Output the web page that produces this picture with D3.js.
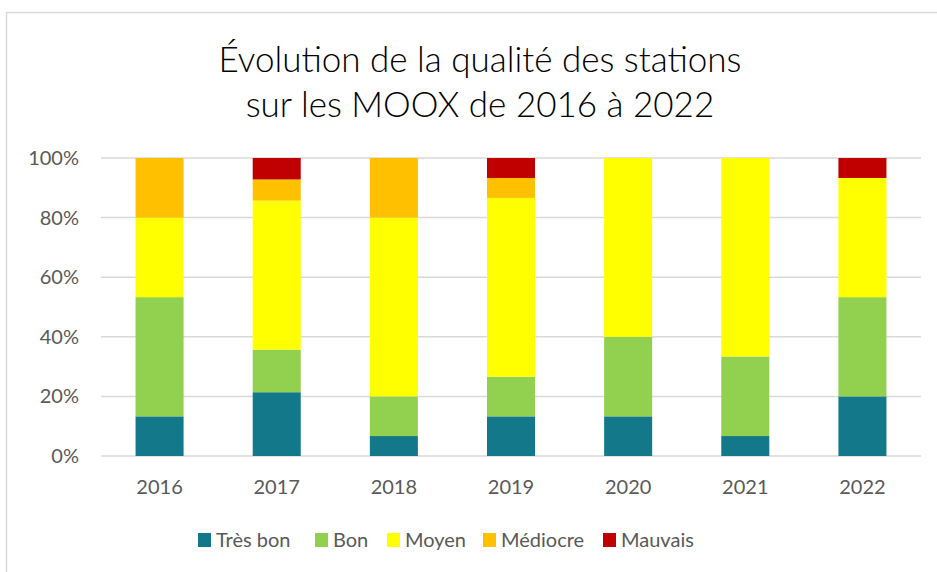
<!DOCTYPE html>
<html><head><meta charset="utf-8">
<script src="https://cdn.jsdelivr.net/npm/d3@7"></script>
<style>body{margin:0;background:#fff}svg{display:block;font-family:Lato,"Open Sans",sans-serif}</style>
</head><body><svg id="c" width="937" height="572"></svg>
<script>
const years = ["2016","2017","2018","2019","2020","2021","2022"];
const seriesNames = ["Très bon","Bon","Moyen","Médiocre","Mauvais"];
const tresBon  = [13.3, 21.4, 6.7, 13.3, 13.3, 6.7, 20.0];
const bon      = [40.0, 14.3, 13.3, 13.3, 26.7, 26.7, 33.3];
const moyen    = [26.7, 50.0, 60.0, 60.0, 60.0, 66.6, 40.0];
const mediocre = [20.0, 7.1, 20.0, 6.7, 0, 0, 0];
const mauvais  = [0, 7.2, 0, 6.7, 0, 0, 6.7];
const colors = ["#13788A","#92D050","#FFFF00","#FFC000","#C00000"];
const yTicks = [0,20,40,60,80,100];

const svg = d3.select("#c");
svg.append("rect").attr("x",6.5).attr("y",12.5).attr("width",940).attr("height",570)
  .attr("fill","none").attr("stroke","#d9d9d9").attr("stroke-width",1.5);

const title = svg.append("text").attr("text-anchor","middle").attr("fill","#000")
  .style("font-size","35px").style("font-weight","300");
title.append("tspan").attr("x",480).attr("y",72).text("Évolution de la qualité des stations");
title.append("tspan").attr("x",480).attr("y",117).text("sur les MOOX de 2016 à 2022");

const x = d3.scaleBand().domain(years).range([101,921]).paddingInner(0.59).paddingOuter(0.295);
const y = d3.scaleLinear().domain([0,100]).range([456,158]);

svg.append("g").selectAll("line").data(yTicks).join("line")
  .attr("x1",101).attr("x2",921).attr("y1",d=>y(d)).attr("y2",d=>y(d))
  .attr("stroke","#d9d9d9").attr("stroke-width",1.5);

const rows = years.map((yr,i)=>({year:yr,"Très bon":tresBon[i],"Bon":bon[i],"Moyen":moyen[i],"Médiocre":mediocre[i],"Mauvais":mauvais[i]}));
const stacked = d3.stack().keys(seriesNames)(rows);
svg.append("g").selectAll("g").data(stacked).join("g").attr("fill",(d,i)=>colors[i])
  .selectAll("rect").data(d=>d).join("rect")
  .attr("x",d=>x(d.data.year)).attr("width",x.bandwidth())
  .attr("y",d=>y(d[1])).attr("height",d=>y(d[0])-y(d[1]));

const yAxis = svg.append("g").attr("transform","translate(79,0)")
  .call(d3.axisLeft(y).tickValues(yTicks).tickFormat(d=>d+"%").tickSize(0).tickPadding(0));
yAxis.select(".domain").remove();
yAxis.selectAll("text").attr("fill","#595959").style("font-size","20px").style("font-family","Lato,sans-serif");

const xAxis = svg.append("g").attr("transform","translate(0,456)")
  .call(d3.axisBottom(x).tickSize(0).tickPadding(24));
xAxis.select(".domain").remove();
xAxis.selectAll("text").attr("fill","#595959").style("font-size","20px").style("font-family","Lato,sans-serif");

const legX = [198,315,387,483,603];
const leg = svg.append("g").selectAll("g").data(seriesNames).join("g")
  .attr("transform",(d,i)=>`translate(${legX[i]},533)`);
leg.append("rect").attr("width",13).attr("height",14).attr("fill",(d,i)=>colors[i]);
leg.append("text").attr("x",18).attr("y",14).attr("fill","#595959").style("font-size","20px").text(d=>d);
</script></body></html>
